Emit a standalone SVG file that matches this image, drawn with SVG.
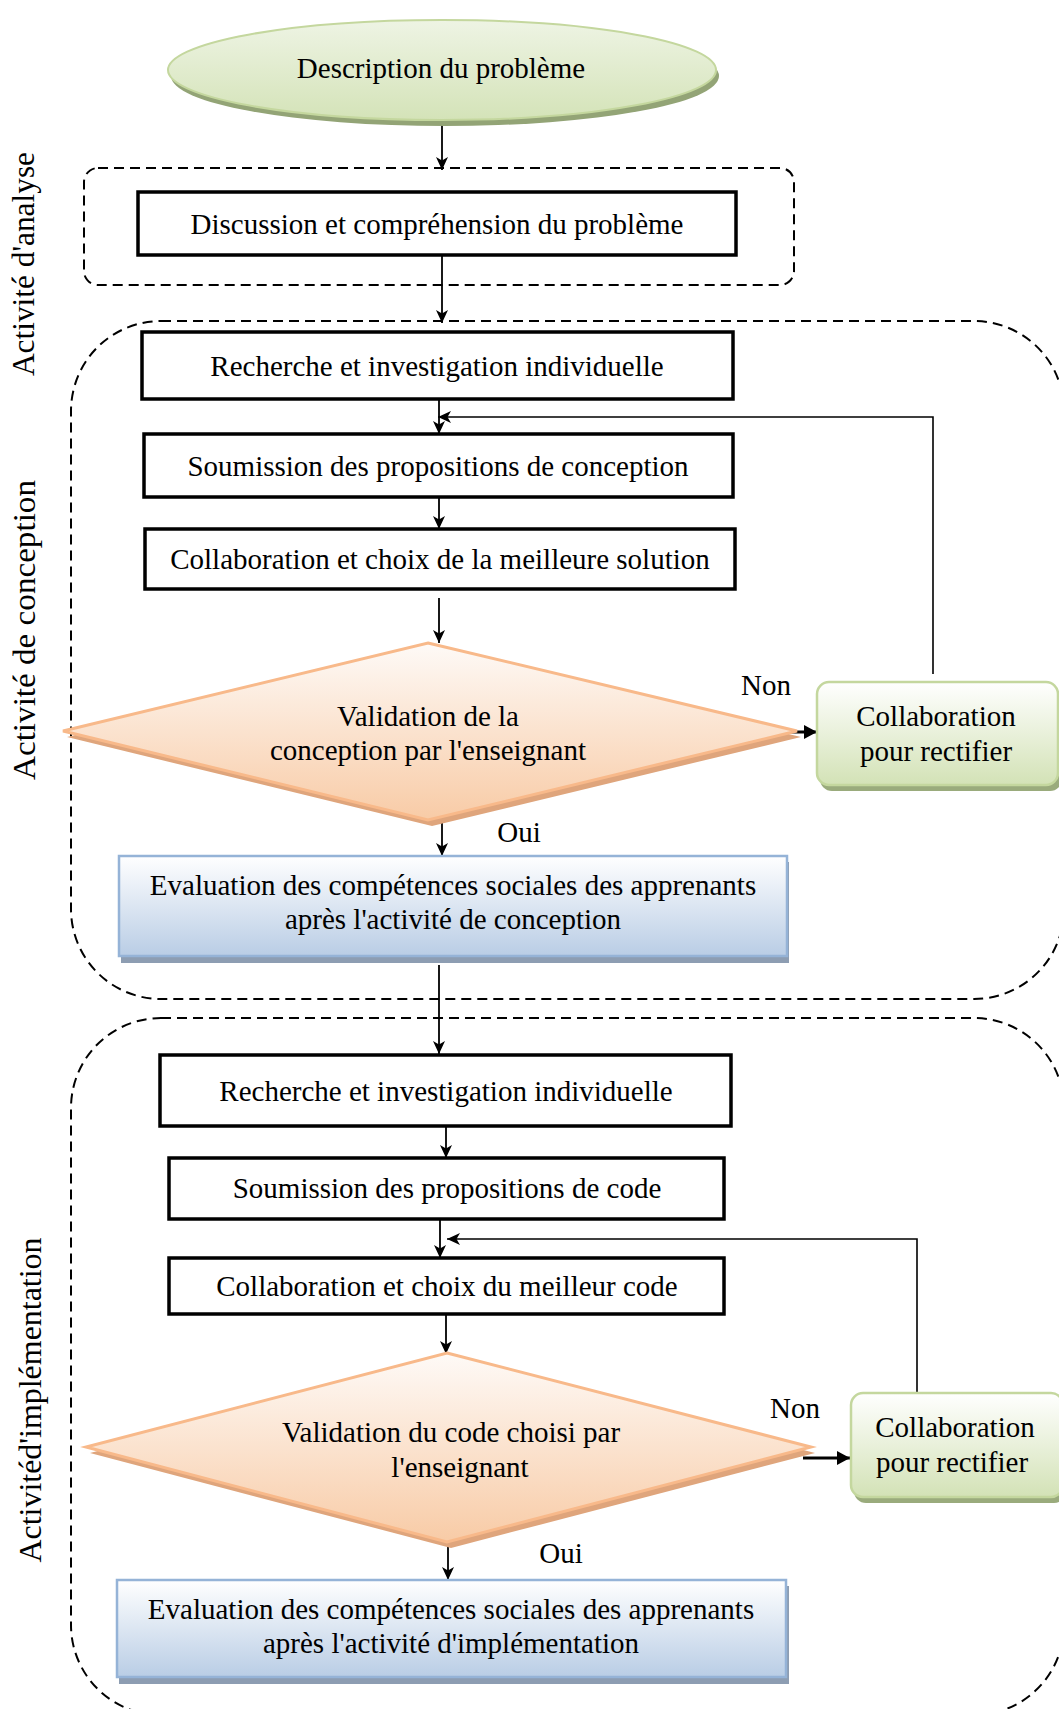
<svg xmlns="http://www.w3.org/2000/svg" width="1059" height="1709" viewBox="0 0 1059 1709">
  <style>
    text { font-family: "Liberation Serif", "Times New Roman", serif; font-size: 29px; fill: #000; }
    .c { text-anchor: middle; }
    .side { font-size: 31px; text-anchor: middle; }
    .step { fill: #fff; stroke: #000; stroke-width: 3.5; }
    .zone { fill: none; stroke: #000; stroke-width: 2; stroke-dasharray: 10 6; }
    .link { fill: none; stroke: #000; stroke-width: 1.8; }
    .back { fill: none; stroke: #000; stroke-width: 1.6; }
    .bold { fill: none; stroke: #000; stroke-width: 3; }
  </style>
  <defs>
    <linearGradient id="gEllipse" x1="0" y1="0" x2="0" y2="1">
      <stop offset="0" stop-color="#eef4e4"/>
      <stop offset="1" stop-color="#d4e3b8"/>
    </linearGradient>
    <linearGradient id="gDiamond" x1="0" y1="0" x2="0" y2="1">
      <stop offset="0" stop-color="#fefaf7"/>
      <stop offset="1" stop-color="#f8cba6"/>
    </linearGradient>
    <linearGradient id="gGreen" x1="0" y1="0" x2="0" y2="1">
      <stop offset="0" stop-color="#ffffff"/>
      <stop offset="1" stop-color="#d3e2b6"/>
    </linearGradient>
    <linearGradient id="gBlue" x1="0" y1="0" x2="0" y2="1">
      <stop offset="0" stop-color="#ffffff"/>
      <stop offset="1" stop-color="#b9cde5"/>
    </linearGradient>
    <marker id="arrow" markerUnits="userSpaceOnUse" markerWidth="16" markerHeight="14" refX="13" refY="6" orient="auto">
      <path d="M0,0 L13,6 L0,12 L3.5,6 z" fill="#000"/>
    </marker>
    <marker id="arrowBold" markerUnits="userSpaceOnUse" markerWidth="16" markerHeight="16" refX="13" refY="7" orient="auto">
      <path d="M0,0 L13,7 L0,14 z" fill="#000"/>
    </marker>
  </defs>

  <!-- activity zones -->
  <g id="zones">
    <rect class="zone" x="84" y="168" width="710" height="117" rx="14"/>
    <rect class="zone" x="71" y="321" width="993" height="678" rx="90"/>
    <rect class="zone" x="71" y="1018" width="993" height="697" rx="90"/>
  </g>

  <!-- zone labels -->
  <g id="labels">
    <text class="side" transform="translate(34,264) rotate(-90)" textLength="224" lengthAdjust="spacingAndGlyphs">Activité d'analyse</text>
    <text class="side" transform="translate(35,630) rotate(-90)" textLength="300" lengthAdjust="spacingAndGlyphs">Activité de conception</text>
    <text class="side" transform="translate(41,1400) rotate(-90)" textLength="325" lengthAdjust="spacingAndGlyphs">Activitéd'implémentation</text>
  </g>

  <!-- connectors -->
  <g id="connectors">
    <line class="link" x1="442" y1="124" x2="442" y2="170" marker-end="url(#arrow)"/>
    <line class="link" x1="442" y1="256" x2="442" y2="323" marker-end="url(#arrow)"/>
    <line class="link" x1="439" y1="399" x2="439" y2="434" marker-end="url(#arrow)"/>
    <polyline class="back" points="933,674 933,417 438,417" marker-end="url(#arrow)"/>
    <line class="link" x1="439" y1="497" x2="439" y2="529" marker-end="url(#arrow)"/>
    <line class="link" x1="439" y1="598" x2="439" y2="643" marker-end="url(#arrow)"/>
    <line class="bold" x1="784" y1="732" x2="817" y2="732" marker-end="url(#arrowBold)"/>
    <line class="link" x1="442" y1="823" x2="442" y2="856" marker-end="url(#arrow)"/>
    <line class="link" x1="439" y1="965" x2="439" y2="1054" marker-end="url(#arrow)"/>
    <line class="link" x1="446" y1="1127" x2="446" y2="1158" marker-end="url(#arrow)"/>
    <line class="link" x1="440" y1="1219" x2="440" y2="1258" marker-end="url(#arrow)"/>
    <polyline class="back" points="917,1393 917,1239 447,1239" marker-end="url(#arrow)"/>
    <line class="link" x1="446" y1="1314" x2="446" y2="1354" marker-end="url(#arrow)"/>
    <line class="bold" x1="803" y1="1458" x2="850" y2="1458" marker-end="url(#arrowBold)"/>
    <line class="link" x1="448" y1="1545" x2="448" y2="1580" marker-end="url(#arrow)"/>
  </g>

  <!-- start -->
  <g id="description">
    <ellipse cx="445" cy="76" rx="274" ry="50" fill="#93a476"/>
    <ellipse cx="442" cy="70" rx="274" ry="50" fill="url(#gEllipse)" stroke="#c4d79e" stroke-width="2"/>
    <text class="c" x="441" y="78">Description du problème</text>
  </g>

  <!-- analysis -->
  <g id="discussion">
    <rect class="step" x="138" y="192" width="598" height="63"/>
    <text class="c" x="437" y="234">Discussion et compréhension du problème</text>
  </g>

  <!-- design -->
  <g id="recherche-conception">
    <rect class="step" x="142" y="332" width="591" height="67"/>
    <text class="c" x="437" y="376">Recherche et investigation individuelle</text>
  </g>
  <g id="soumission-conception">
    <rect class="step" x="144" y="434" width="589" height="63"/>
    <text class="c" x="438" y="476">Soumission des propositions de conception</text>
  </g>
  <g id="choix-solution">
    <rect class="step" x="145" y="529" width="590" height="60"/>
    <text class="c" x="440" y="569">Collaboration et choix de la meilleure solution</text>
  </g>
  <g id="validation-conception">
    <polygon points="432,649 801,737 432,826 67,737" fill="#dfa57c"/>
    <polygon points="428,643 797,731 428,820 63,731" fill="url(#gDiamond)" stroke="#f8b98a" stroke-width="3"/>
    <text class="c" x="428" y="726">Validation de la</text>
    <text class="c" x="428" y="760">conception par l'enseignant</text>
    <text class="c" x="766" y="695">Non</text>
    <text class="c" x="519" y="842">Oui</text>
  </g>
  <g id="rectifier-conception">
    <rect x="820" y="688" width="242" height="103" rx="12" fill="#9aab7c"/>
    <rect x="817" y="682" width="241" height="103" rx="12" fill="url(#gGreen)" stroke="#c4d79e" stroke-width="2.5"/>
    <text class="c" x="936" y="726">Collaboration</text>
    <text class="c" x="936" y="761">pour rectifier</text>
  </g>
  <g id="evaluation-conception">
    <rect x="121" y="862" width="668" height="101" fill="#8d9db2"/>
    <rect x="119" y="856" width="668" height="100" fill="url(#gBlue)" stroke="#95b3d7" stroke-width="2.5"/>
    <text class="c" x="453" y="895">Evaluation des compétences sociales des apprenants</text>
    <text class="c" x="453" y="929">après l'activité de conception</text>
  </g>

  <!-- implementation -->
  <g id="recherche-code">
    <rect class="step" x="160" y="1055" width="571" height="71"/>
    <text class="c" x="446" y="1101">Recherche et investigation individuelle</text>
  </g>
  <g id="soumission-code">
    <rect class="step" x="169" y="1158" width="555" height="61"/>
    <text class="c" x="447" y="1198">Soumission des propositions de code</text>
  </g>
  <g id="choix-code">
    <rect class="step" x="169" y="1258" width="555" height="56"/>
    <text class="c" x="447" y="1296">Collaboration et choix du meilleur code</text>
  </g>
  <g id="validation-code">
    <polygon points="451,1359 815,1453 451,1548 90,1453" fill="#dfa57c"/>
    <polygon points="447,1353 811,1447 447,1542 86,1447" fill="url(#gDiamond)" stroke="#f8b98a" stroke-width="3"/>
    <text class="c" x="451" y="1442">Validation du code choisi par</text>
    <text class="c" x="460" y="1477">l'enseignant</text>
    <text class="c" x="795" y="1418">Non</text>
    <text class="c" x="561" y="1563">Oui</text>
  </g>
  <g id="rectifier-code">
    <rect x="854" y="1399" width="212" height="104" rx="12" fill="#9aab7c"/>
    <rect x="851" y="1393" width="212" height="104" rx="12" fill="url(#gGreen)" stroke="#c4d79e" stroke-width="2.5"/>
    <text class="c" x="955" y="1437">Collaboration</text>
    <text class="c" x="952" y="1472">pour rectifier</text>
  </g>
  <g id="evaluation-code">
    <rect x="119" y="1586" width="670" height="98" fill="#8d9db2"/>
    <rect x="117" y="1580" width="669" height="97" fill="url(#gBlue)" stroke="#95b3d7" stroke-width="2.5"/>
    <text class="c" x="451" y="1619">Evaluation des compétences sociales des apprenants</text>
    <text class="c" x="451" y="1653">après l'activité d'implémentation</text>
  </g>
</svg>
